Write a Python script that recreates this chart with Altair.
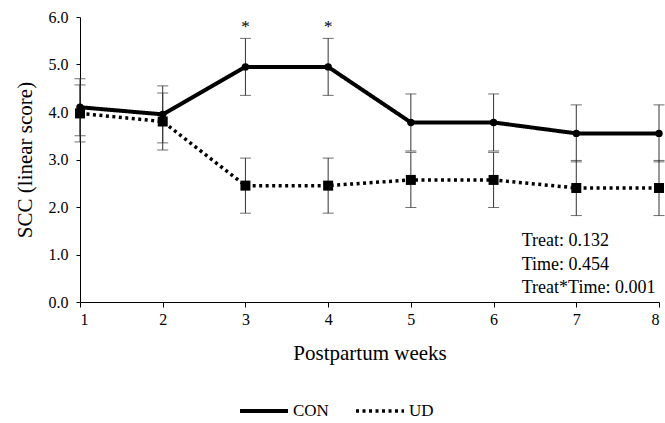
import altair as alt
import pandas as pd

weeks = [1, 2, 3, 4, 5, 6, 7, 8]
con_mean = [4.10, 3.95, 4.95, 4.95, 3.78, 3.78, 3.55, 3.55]
con_err = [0.60, 0.60, 0.60, 0.60, 0.60, 0.60, 0.60, 0.60]
ud_mean = [3.97, 3.80, 2.45, 2.45, 2.57, 2.57, 2.40, 2.40]
ud_err = [0.60, 0.60, 0.58, 0.58, 0.58, 0.58, 0.58, 0.58]
sig_weeks = [3, 4]
stats_lines = ["Treat: 0.132", "Time: 0.454", "Treat*Time: 0.001"]

rows = []
for w, m, e in zip(weeks, con_mean, con_err):
    rows.append({"week": w, "value": m, "lo": m - e, "hi": m + e, "group": "CON"})
for w, m, e in zip(weeks, ud_mean, ud_err):
    rows.append({"week": w, "value": m, "lo": m - e, "hi": m + e, "group": "UD"})
df = pd.DataFrame(rows)

sig_df = pd.DataFrame({"week": sig_weeks, "y": [5.8] * len(sig_weeks), "t": ["*"] * len(sig_weeks)})
stats_df = pd.DataFrame({"week": [6.34] * 3, "y": [1.28, 0.78, 0.29], "t": stats_lines})

FONT = "Liberation Serif"

x_scale = alt.Scale(domain=[1, 8], nice=False, zero=False)
y_scale = alt.Scale(domain=[0, 6], nice=False)

common_axis = dict(grid=False, labelFont=FONT, titleFont=FONT, labelFontSize=16, titleFontSize=21,
                   titleFontWeight="normal", labelColor="black", titleColor="black",
                   domainColor="black", tickColor="black")

x_enc = alt.X("week:Q", scale=x_scale,
              axis=alt.Axis(title="Postpartum weeks", values=weeks, format="d",
                            tickSize=5, labelPadding=4, titlePadding=15, **common_axis))
y_enc = alt.Y("value:Q", scale=y_scale,
              axis=alt.Axis(title="SCC (linear score)", values=[0, 1, 2, 3, 4, 5, 6], format=".1f",
                            tickSize=4, labelPadding=8, titlePadding=13, **common_axis))

base = alt.Chart(df)

rules = base.mark_rule(color="#333", strokeWidth=1).encode(
    x="week:Q", y=alt.Y("lo:Q", scale=y_scale), y2="hi:Q")
caps_hi = base.mark_tick(color="#333", orient="horizontal", size=11, thickness=1).encode(
    x="week:Q", y=alt.Y("hi:Q", scale=y_scale))
caps_lo = base.mark_tick(color="#333", orient="horizontal", size=11, thickness=1).encode(
    x="week:Q", y=alt.Y("lo:Q", scale=y_scale))

lines = base.mark_line(color="black").encode(
    x=x_enc, y=y_enc,
    strokeDash=alt.StrokeDash("group:N",
                              scale=alt.Scale(domain=["CON", "UD"], range=[[1, 0], [3, 3.5]]),
                              legend=alt.Legend(title=None, orient="none", direction="horizontal",
                                                legendX=158, legendY=368,
                                                symbolType="stroke", symbolStrokeWidth=3.5,
                                                symbolSize=2300, symbolStrokeColor="black",
                                                labelFont=FONT, labelFontSize=17, labelColor="black",
                                                columnPadding=20, labelOffset=3)),
    strokeWidth=alt.StrokeWidth("group:N", scale=alt.Scale(domain=["CON", "UD"], range=[4, 3.5]),
                                legend=None),
)

con_pts = base.transform_filter(alt.datum.group == "CON").mark_point(
    filled=True, color="black", opacity=1, shape="circle", size=55).encode(
    x="week:Q", y=alt.Y("value:Q", scale=y_scale))
ud_pts = base.transform_filter(alt.datum.group == "UD").mark_point(
    filled=True, color="black", opacity=1, shape="square", size=100).encode(
    x="week:Q", y=alt.Y("value:Q", scale=y_scale))

stars = alt.Chart(sig_df).mark_text(font=FONT, fontSize=17, color="black").encode(
    x="week:Q", y=alt.Y("y:Q", scale=y_scale), text="t:N")

stats = alt.Chart(stats_df).mark_text(font=FONT, fontSize=18, color="black", align="left",
                                      baseline="middle").encode(
    x="week:Q", y=alt.Y("y:Q", scale=y_scale), text="t:N")

chart = alt.layer(rules, caps_hi, caps_lo, lines, con_pts, ud_pts, stars, stats).properties(
    width=579, height=285,
    background="white",
    autosize=alt.AutoSizeParams(type="none"),
    padding={"left": 80, "top": 17, "right": 6, "bottom": 121},
).configure_view(stroke=None)

chart.save("out.html", embed_options={"renderer": "svg", "actions": False})
